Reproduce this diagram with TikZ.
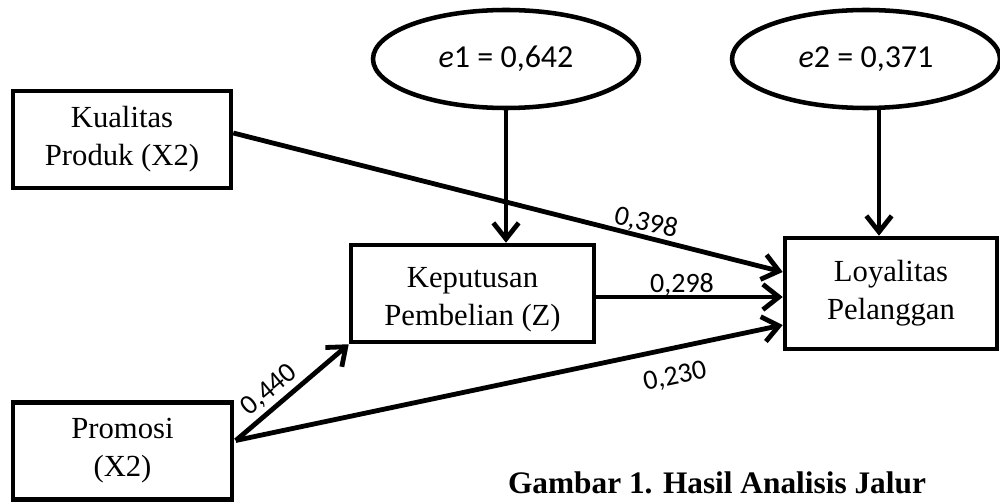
\documentclass[tikz,border=0pt]{standalone}
\usepackage{fontspec}
\setmainfont{Liberation Serif}
\newfontfamily\calib{Carlito}
\usetikzlibrary{arrows.meta,calc,shapes.geometric}
\begin{document}
\begin{tikzpicture}[x=0.75pt,y=-0.75pt,
  boxfont/.style={font=\fontsize{23}{28.5}\selectfont},
  box/.style={draw,line width=3.4pt,align=center,inner sep=0pt,boxfont},
  errnode/.style={draw,ellipse,line width=3.4pt,inner sep=0pt,
    font=\calib\fontsize{24}{28}\selectfont},
  path/.style={line width=3.6pt,-{Straight Barb[length=12pt,width=19pt,line width=3.6pt]}},
  coef/.style={font=\calib\fontsize{21}{24}\selectfont,inner sep=0pt}]
\useasboundingbox (0,0) rectangle (1000,502);
% boxes
\node[box,minimum width=163.5pt,minimum height=72.75pt] (kp) at (122,139.5) {Kualitas\\Produk (X2)};
\node[box,minimum width=182.25pt,minimum height=72.75pt] (kb) at (472.5,293.5) {};
\node[align=center,inner sep=0pt,boxfont] (kbt) at (472.5,300) {Keputusan\\Pembelian (Z)};
\node[box,minimum width=159pt,minimum height=83.25pt] (ly) at (891,293.5) {Loyalitas\\Pelanggan};
\node[box,minimum width=164.25pt,minimum height=72.75pt] (pr) at (122.5,451) {Promosi\\(X2)};
% error terms
\node[errnode,minimum width=199.5pt,minimum height=73.5pt] (e1) at (506,59) {\textit{e}1 = 0,642};
\node[errnode,minimum width=201pt,minimum height=73.5pt] (e2) at (866,59) {\textit{e}2 = 0,371};
% connector end points
\coordinate (t1) at ($(ly.west)+(0,-21.5)$);
\coordinate (t2) at ($(ly.west)+(0,3.5)$);
\coordinate (t3) at ($(ly.west)+(0,31.5)$);
\coordinate (ks) at ($(kp.east)+(0,-6.5)$);
\coordinate (ps) at ($(pr.east)+(1.5,-10.5)$);
\coordinate (e2x) at (879,0);
% connectors
\draw[path] (e1.south) -- (e1.south |- kb.north);
\draw[path] (e2.south -| e2x) -- (e2x |- ly.north);
\draw[path] (ks) -- (t1);
\draw[path] (kb.east |- t2) -- (t2);
\draw[path] (ps) -- (kb.south west);
\draw[path] (ps) -- (t3);
% coefficients
\node[coef,rotate=-13] (c398) at (646,223) {0,398};
\node[coef] (c298) at (682,285) {0,298};
\node[coef,rotate=12] (c230) at (675,377) {0,230};
\node[coef,rotate=40] (c440) at (269.5,390) {0,440};
% caption
\node[inner sep=0pt,font=\bfseries\fontsize{23.5}{28}\selectfont] (cap) at (717,483) {Gambar 1. Hasil Analisis Jalur};
\end{tikzpicture}
\end{document}
